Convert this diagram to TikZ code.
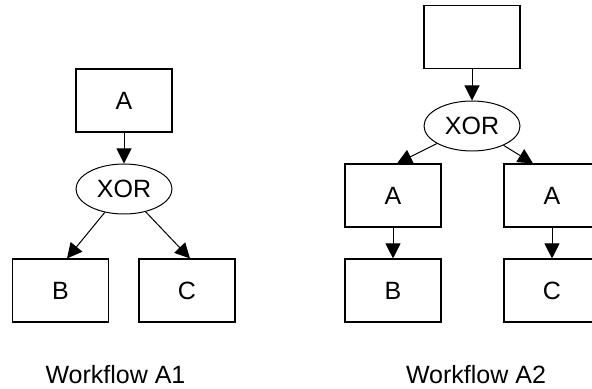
\documentclass[tikz,border=0pt]{standalone}
\usepackage{fontspec}
\setmainfont{Liberation Sans}
\usetikzlibrary{arrows.meta,shapes.geometric}

\begin{document}
\begin{tikzpicture}[x=0.5pt,y=-0.5pt,
        task/.style={draw, line width=0.55pt, minimum width=48pt, minimum height=31.5pt, inner sep=0pt, font=\fontsize{12.5}{14}\selectfont},
        gate/.style={draw, ellipse, line width=0.5pt, minimum width=48pt, minimum height=25pt, inner sep=0pt, font=\fontsize{12.5}{14}\selectfont},
        flow/.style={line width=0.5pt, -{Triangle[length=7.5pt,width=7.5pt]}},
        caption/.style={anchor=base, font=\fontsize{12.5}{14}\selectfont}]
    \useasboundingbox (0,0) rectangle (592,389);

    % Workflow A1
    \node [task] (a1) at (124,100.5) {A};
    \node [gate] (x1) at (124,189) {XOR};
    \node [task] (b1) at (60.5,290.5) {B};
    \node [task] (c1) at (187,290.5) {C};
    \draw [flow] (a1) -- (x1);
    \draw [flow] (x1) -- ([xshift=3.25pt]b1.north);
    \draw [flow] (x1) -- ([xshift=1.5pt]c1.north);
    \node [caption] (l1) at (115.5,383) {Workflow A1};

    % Workflow A2
    \node [task] (top2) at (472,37) {};
    \node [gate] (x2) at (472,126) {XOR};
    \node [task] (a2l) at (393,195.5) {A};
    \node [task] (a2r) at (552,195.5) {A};
    \node [task] (b2) at (393,290.5) {B};
    \node [task] (c2) at (552,290.5) {C};
    \draw [flow] (top2) -- (x2);
    \draw [flow] (x2) -- ([xshift=2pt]a2l.north);
    \draw [flow] (x2) -- ([xshift=-9.5pt]a2r.north);
    \draw [flow] (a2l) -- (b2);
    \draw [flow] (a2r) -- (c2);
    \node [caption] (l2) at (476,383) {Workflow A2};
\end{tikzpicture}
\end{document}
